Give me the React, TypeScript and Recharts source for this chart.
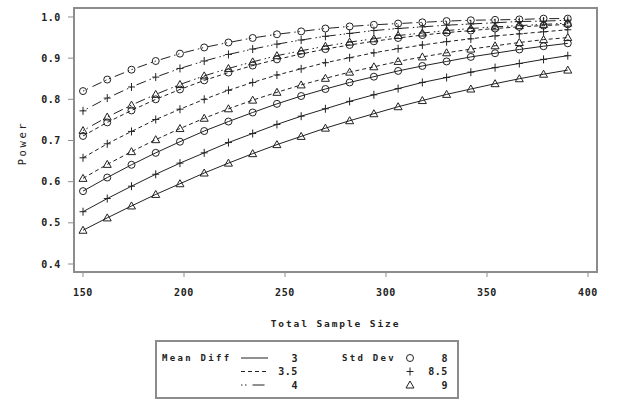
import React from 'react';
import { LineChart, Line, XAxis, YAxis, ReferenceArea } from 'recharts';

const sampleSizes = [150, 162, 174, 186, 198, 210, 222, 234, 246, 258, 270, 282, 294, 306, 318, 330, 342, 354, 366, 378, 390];
const xTicks = [150, 200, 250, 300, 350, 400];
const yTicks = [0.4, 0.5, 0.6, 0.7, 0.8, 0.9, 1.0];
const meanDiffLabels = ['3', '3.5', '4'];
const stdDevLabels = ['8', '8.5', '9'];

const power_d3_sd8 = [0.577, 0.610, 0.641, 0.670, 0.697, 0.723, 0.746, 0.768, 0.789, 0.808, 0.825, 0.841, 0.855, 0.869, 0.881, 0.892, 0.903, 0.912, 0.921, 0.929, 0.936];
const power_d3_sd85 = [0.527, 0.559, 0.589, 0.618, 0.645, 0.670, 0.695, 0.717, 0.739, 0.759, 0.777, 0.795, 0.811, 0.826, 0.841, 0.853, 0.866, 0.877, 0.887, 0.897, 0.906];
const power_d3_sd9 = [0.482, 0.512, 0.541, 0.569, 0.595, 0.621, 0.645, 0.668, 0.690, 0.710, 0.730, 0.748, 0.765, 0.782, 0.797, 0.812, 0.825, 0.838, 0.850, 0.861, 0.871];
const power_d35_sd8 = [0.711, 0.744, 0.773, 0.800, 0.824, 0.846, 0.865, 0.882, 0.897, 0.910, 0.922, 0.932, 0.941, 0.949, 0.956, 0.962, 0.967, 0.972, 0.976, 0.979, 0.982];
const power_d35_sd85 = [0.658, 0.692, 0.722, 0.751, 0.776, 0.800, 0.822, 0.841, 0.859, 0.874, 0.889, 0.901, 0.913, 0.923, 0.932, 0.940, 0.947, 0.954, 0.959, 0.964, 0.969];
const power_d35_sd9 = [0.608, 0.642, 0.673, 0.702, 0.729, 0.754, 0.777, 0.798, 0.817, 0.835, 0.851, 0.866, 0.879, 0.892, 0.903, 0.913, 0.922, 0.930, 0.938, 0.945, 0.950];
const power_d4_sd8 = [0.820, 0.848, 0.872, 0.893, 0.911, 0.926, 0.938, 0.949, 0.958, 0.965, 0.972, 0.977, 0.981, 0.984, 0.987, 0.990, 0.992, 0.993, 0.994, 0.996, 0.996];
const power_d4_sd85 = [0.772, 0.803, 0.830, 0.854, 0.875, 0.893, 0.909, 0.922, 0.934, 0.944, 0.953, 0.960, 0.967, 0.972, 0.976, 0.980, 0.983, 0.986, 0.989, 0.990, 0.992];
const power_d4_sd9 = [0.724, 0.757, 0.786, 0.812, 0.836, 0.857, 0.875, 0.891, 0.906, 0.918, 0.929, 0.939, 0.947, 0.955, 0.961, 0.967, 0.972, 0.976, 0.979, 0.982, 0.985];

const series = [
  { key: 'd3_sd8', values: power_d3_sd8, md: 0, sd: 0 },
  { key: 'd3_sd85', values: power_d3_sd85, md: 0, sd: 1 },
  { key: 'd3_sd9', values: power_d3_sd9, md: 0, sd: 2 },
  { key: 'd35_sd8', values: power_d35_sd8, md: 1, sd: 0 },
  { key: 'd35_sd85', values: power_d35_sd85, md: 1, sd: 1 },
  { key: 'd35_sd9', values: power_d35_sd9, md: 1, sd: 2 },
  { key: 'd4_sd8', values: power_d4_sd8, md: 2, sd: 0 },
  { key: 'd4_sd85', values: power_d4_sd85, md: 2, sd: 1 },
  { key: 'd4_sd9', values: power_d4_sd9, md: 2, sd: 2 },
];

const data = sampleSizes.map((n, i) => {
  const row: Record<string, number> = { n };
  series.forEach((s) => { row[s.key] = s.values[i]; });
  return row;
});

const INK = '#222';
const FRAME = '#8c8c8c';
const FONT = '"DejaVu Sans Mono", monospace';
const dashes = ['', '4 3', '1.5 2.5 1.5 5 10 4'];

function Marker({ kind, cx, cy }: { kind: number; cx: number; cy: number }) {
  if (kind === 0) return <circle cx={cx} cy={cy} r={3.5} fill="none" stroke={INK} strokeWidth={1} />;
  if (kind === 1)
    return <path d={`M${cx - 3.5},${cy} H${cx + 3.5} M${cx},${cy - 4} V${cy + 4}`} stroke={INK} strokeWidth={1} fill="none" />;
  return <path d={`M${cx},${cy - 4} L${cx + 4},${cy + 3} L${cx - 4},${cy + 3} Z`} stroke={INK} strokeWidth={1} fill="none" />;
}

const tickStyle = { fontFamily: FONT, fontSize: 10, fontWeight: 'bold', fill: INK, letterSpacing: 0.6 } as const;

export default function App() {
  return (
    <div style={{ position: 'absolute', left: 0, top: 0, width: 617, height: 412, background: '#fff' }}>
      <LineChart width={617} height={412} data={data} margin={{ top: 8, right: 20, bottom: 100, left: 0 }}>
        <XAxis
          dataKey="n"
          type="number"
          domain={[145.54, 404.46]}
          ticks={xTicks}
          allowDataOverflow
          height={40}
          tickSize={5}
          tickMargin={12}
          tick={tickStyle}
          stroke={FRAME}
          axisLine={{ stroke: FRAME, strokeWidth: 2 }}
          tickLine={{ stroke: FRAME }}
          label={{
            content: (p: any) => {
              const vb = p.viewBox;
              return (
                <text x={vb.x + vb.width / 2} y={327} textAnchor="middle" fontFamily={FONT} fontSize={9.5} fontWeight="bold" fill={INK} letterSpacing={1.9}>
                  Total Sample Size
                </text>
              );
            },
          }}
        />
        <YAxis
          type="number"
          domain={[0.3806, 1.0218]}
          ticks={yTicks}
          allowDataOverflow
          width={74}
          tickSize={6}
          tickMargin={7}
          tick={tickStyle}
          tickFormatter={(v: number) => v.toFixed(1)}
          axisLine={{ stroke: FRAME, strokeWidth: 2 }}
          tickLine={{ stroke: FRAME }}
          label={{
            content: (p: any) => {
              const vb = p.viewBox;
              const cy = vb.y + vb.height / 2 + 3;
              return (
                <text x={26} y={cy} transform={`rotate(-90 26 ${cy})`} textAnchor="middle" fontFamily={FONT} fontSize={10.5} fill={INK} letterSpacing={2.6}>
                  Power
                </text>
              );
            },
          }}
        />
        <ReferenceArea x1={145.54} x2={404.46} y1={0.3806} y2={1.0218} fill="none" stroke={FRAME} strokeWidth={2} ifOverflow="visible" />
        {series.map((s) => (
          <Line
            key={s.key}
            dataKey={s.key}
            type="linear"
            stroke={INK}
            strokeWidth={1}
            strokeDasharray={dashes[s.md]}
            isAnimationActive={false}
            dot={(p: any) => <Marker key={`${s.key}-${p.index}`} kind={s.sd} cx={p.cx} cy={p.cy} />}
            activeDot={false}
          />
        ))}
      </LineChart>
      <svg width={617} height={412} style={{ position: 'absolute', left: 0, top: 0, pointerEvents: 'none' }}>
        <rect x={156} y={341} width={302} height={57} fill="none" stroke={FRAME} strokeWidth={2} />
        <text x={162} y={361} fontFamily={FONT} fontSize={9} fontWeight="bold" fill={INK} letterSpacing={2.3}>Mean Diff</text>
        <text x={342} y={361} fontFamily={FONT} fontSize={9} fontWeight="bold" fill={INK} letterSpacing={2.3}>Std Dev</text>
        {meanDiffLabels.map((lab, i) => {
          const y = 358 + i * 13.5;
          return (
            <g key={`md-${lab}`}>
              <line x1={241} x2={268} y1={y} y2={y} stroke={INK} strokeWidth={1} strokeDasharray={i === 2 ? '1.5 2.5 1.5 6 12 4' : dashes[i]} />
              <text x={298} y={y + 3.5} textAnchor="end" fontFamily={FONT} fontSize={10} fontWeight="bold" fill={INK} letterSpacing={0.6}>{lab}</text>
            </g>
          );
        })}
        {stdDevLabels.map((lab, i) => {
          const y = 358 + i * 13.5;
          return (
            <g key={`sd-${lab}`}>
              <Marker kind={i} cx={410} cy={y} />
              <text x={448} y={y + 3.5} textAnchor="end" fontFamily={FONT} fontSize={10} fontWeight="bold" fill={INK} letterSpacing={0.6}>{lab}</text>
            </g>
          );
        })}
      </svg>
    </div>
  );
}
